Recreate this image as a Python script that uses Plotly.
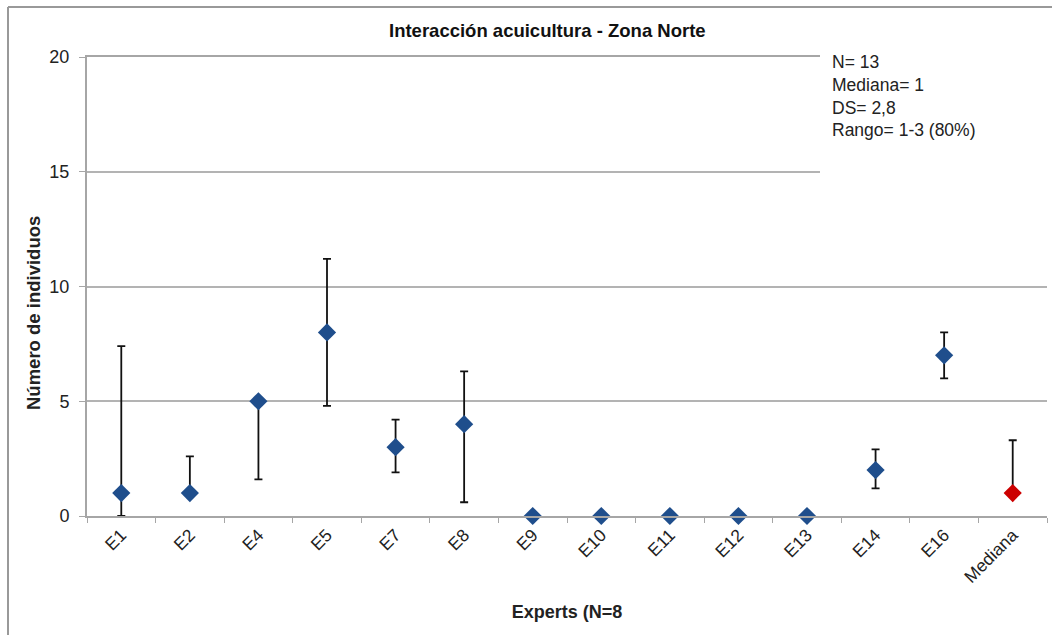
import plotly.graph_objects as go

categories = ["E1", "E2", "E4", "E5", "E7", "E8", "E9", "E10", "E11", "E12", "E13", "E14", "E16", "Mediana"]
values = [1, 1, 5, 8, 3, 4, 0, 0, 0, 0, 0, 2, 7, 1]
upper = [7.4, 2.6, 5.0, 11.2, 4.2, 6.3, 0, 0, 0, 0, 0, 2.9, 8.0, 3.3]
lower = [0.0, 1.0, 1.6, 4.8, 1.9, 0.6, 0, 0, 0, 0, 0, 1.2, 6.0, 1.0]
y_ticks = [0, 5, 10, 15, 20]

title = "Interacción acuicultura - Zona Norte"
x_title = "Experts (N=8"
y_title = "Número de individuos"
stats_text = "N= 13<br>Mediana= 1<br>DS= 2,8<br>Rango= 1-3 (80%)"

plus = [u - v for u, v in zip(upper, values)]
minus = [v - l for v, l in zip(values, lower)]

n = len(categories) - 1
fig = go.Figure()
err_style = dict(color="#111111", thickness=1.8, width=4)
fig.add_trace(go.Scatter(
    x=categories[:n], y=values[:n], mode="markers",
    marker=dict(symbol="diamond", size=14, color="#1F4E8C"),
    error_y=dict(type="data", symmetric=False, array=plus[:n], arrayminus=minus[:n], **err_style),
    showlegend=False, cliponaxis=False,
))
fig.add_trace(go.Scatter(
    x=categories[n:], y=values[n:], mode="markers",
    marker=dict(symbol="diamond", size=14, color="#CC0000"),
    error_y=dict(type="data", symmetric=False, array=plus[n:], arrayminus=minus[n:], **err_style),
    showlegend=False, cliponaxis=False,
))

W, H = 1052, 635
L, R, T, B = 87, 5, 57, 119
pw, ph = W - L - R, H - T - B

def px_x(x):
    return (x - L) / pw

def px_y(y):
    return (H - B - y) / ph

FONT = "Liberation Sans, Arial, sans-serif"
fig.update_layout(
    width=W, height=H,
    margin=dict(l=L, r=R, t=T, b=B, pad=0),
    paper_bgcolor="white", plot_bgcolor="white",
    font=dict(family=FONT, size=17, color="#222222"),
    xaxis=dict(
        type="category", categoryorder="array", categoryarray=categories,
        range=[-0.5, len(categories) - 0.5],
        showline=True, mirror=True, linecolor="#A6A6A6", linewidth=2,
        ticks="outside", tickson="boundaries", ticklen=5, tickcolor="#A6A6A6",
        tickangle=-45, showgrid=False, tickfont=dict(size=17.5, color="#222222"),
        title=dict(text="<b>" + x_title + "</b>", font=dict(size=18, color="#222222"), standoff=20),
    ),
    yaxis=dict(
        range=[0, 20], tickvals=y_ticks,
        showline=True, linecolor="#A6A6A6", linewidth=2,
        ticks="outside", ticklen=6, tickcolor="#A6A6A6", ticklabelstandoff=6,
        showgrid=True, gridcolor="#B3B3B3", gridwidth=2, zeroline=False,
        tickfont=dict(size=18, color="#222222"),
    ),
    shapes=[
        dict(type="rect", xref="paper", yref="paper",
             x0=px_x(820), x1=px_x(1052), y0=px_y(190), y1=px_y(40),
             fillcolor="white", line=dict(width=0), layer="above"),
        dict(type="line", xref="paper", yref="paper",
             x0=px_x(8), x1=px_x(1060), y0=px_y(7), y1=px_y(7),
             line=dict(color="#999999", width=2), layer="above"),
        dict(type="line", xref="paper", yref="paper",
             x0=px_x(8), x1=px_x(8), y0=px_y(7), y1=px_y(645),
             line=dict(color="#999999", width=2), layer="above"),
    ],
    annotations=[
        dict(text="<b>" + title + "</b>", xref="paper", yref="paper",
             x=px_x(547), y=px_y(31), xanchor="center", yanchor="middle",
             showarrow=False, font=dict(size=18.5, color="#111111")),
        dict(text="<b>" + y_title + "</b>", xref="paper", yref="paper",
             x=px_x(33), y=px_y(313), xanchor="center", yanchor="middle", textangle=-90,
             showarrow=False, font=dict(size=18.5, color="#222222")),
        dict(text=stats_text, xref="paper", yref="paper",
             x=px_x(830), y=px_y(50), xanchor="left", yanchor="top", align="left",
             showarrow=False, font=dict(size=17.5, color="#222222")),
    ],
)

fig.write_html("out.html")
